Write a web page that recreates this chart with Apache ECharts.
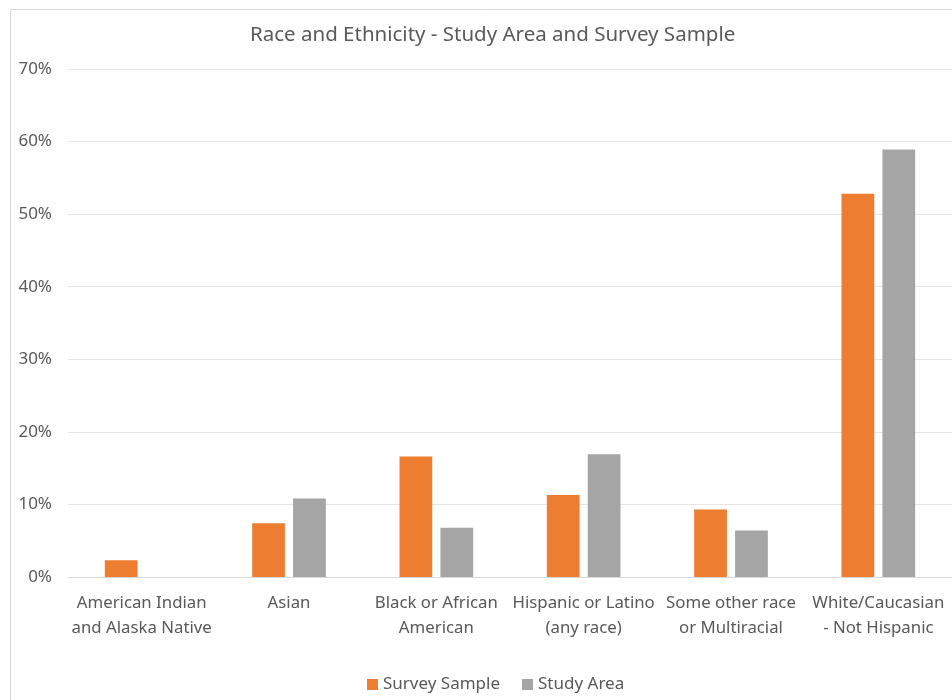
<!DOCTYPE html>
<html>
<head>
<meta charset="utf-8">
<script src="https://cdn.jsdelivr.net/npm/echarts@6/dist/echarts.min.js"></script>
<style>html,body{margin:0;padding:0;background:#fff;}#c{width:952px;height:700px;}</style>
</head>
<body>
<div id="c"></div>
<script>
const categories = [
  "American Indian\nand Alaska Native",
  "Asian",
  "Black or African\nAmerican",
  "Hispanic or Latino\n(any race)",
  "Some other race\nor Multiracial",
  "White/Caucasian\n- Not Hispanic"
];
const surveySample = [2.3, 7.4, 16.6, 11.3, 9.3, 52.8];
const studyArea = [0, 10.8, 6.8, 16.9, 6.4, 58.9];
const seriesNames = ["Survey Sample", "Study Area"];
const titleText = "Race and Ethnicity - Study Area and Survey Sample";

const font = "'Noto Sans', sans-serif";
const chart = echarts.init(document.getElementById('c'), null, {renderer: 'canvas'});
chart.setOption({
  animation: false,
  backgroundColor: '#fff',
  graphic: [{
    type: 'rect', left: 8, top: 7,
    shape: {width: 1000, height: 760},
    style: {fill: 'none', stroke: '#d9d9d9', lineWidth: 1}
  }],
  title: {
    text: titleText, left: 245, top: 20,
    textStyle: {fontFamily: font, fontSize: 20.5, fontWeight: 'normal', color: '#595959'}
  },
  legend: {
    data: seriesNames, top: 671, left: 362,
    itemWidth: 11, itemHeight: 11, itemGap: 22, icon: 'rect',
    textStyle: {fontFamily: font, fontSize: 17, color: '#595959'}
  },
  grid: {left: 68, right: 0, top: 69, bottom: 123, containLabel: false},
  xAxis: {
    type: 'category', data: categories,
    axisLine: {lineStyle: {color: '#d9d9d9'}},
    axisTick: {show: false},
    axisLabel: {fontFamily: font, fontSize: 16.8, color: '#595959', interval: 0, margin: 14, lineHeight: 25}
  },
  yAxis: {
    type: 'value', min: 0, max: 70, interval: 10,
    axisLine: {show: false}, axisTick: {show: false},
    splitLine: {lineStyle: {color: '#e6e6e6'}},
    axisLabel: {fontFamily: font, fontSize: 17, color: '#595959', formatter: '{value}%', margin: 16}
  },
  series: [
    {name: seriesNames[0], type: 'bar', data: surveySample, itemStyle: {color: '#ed7d31'}, barGap: '25%', barCategoryGap: '50%'},
    {name: seriesNames[1], type: 'bar', data: studyArea, itemStyle: {color: '#a5a5a5'}}
  ]
});
</script>
</body>
</html>
